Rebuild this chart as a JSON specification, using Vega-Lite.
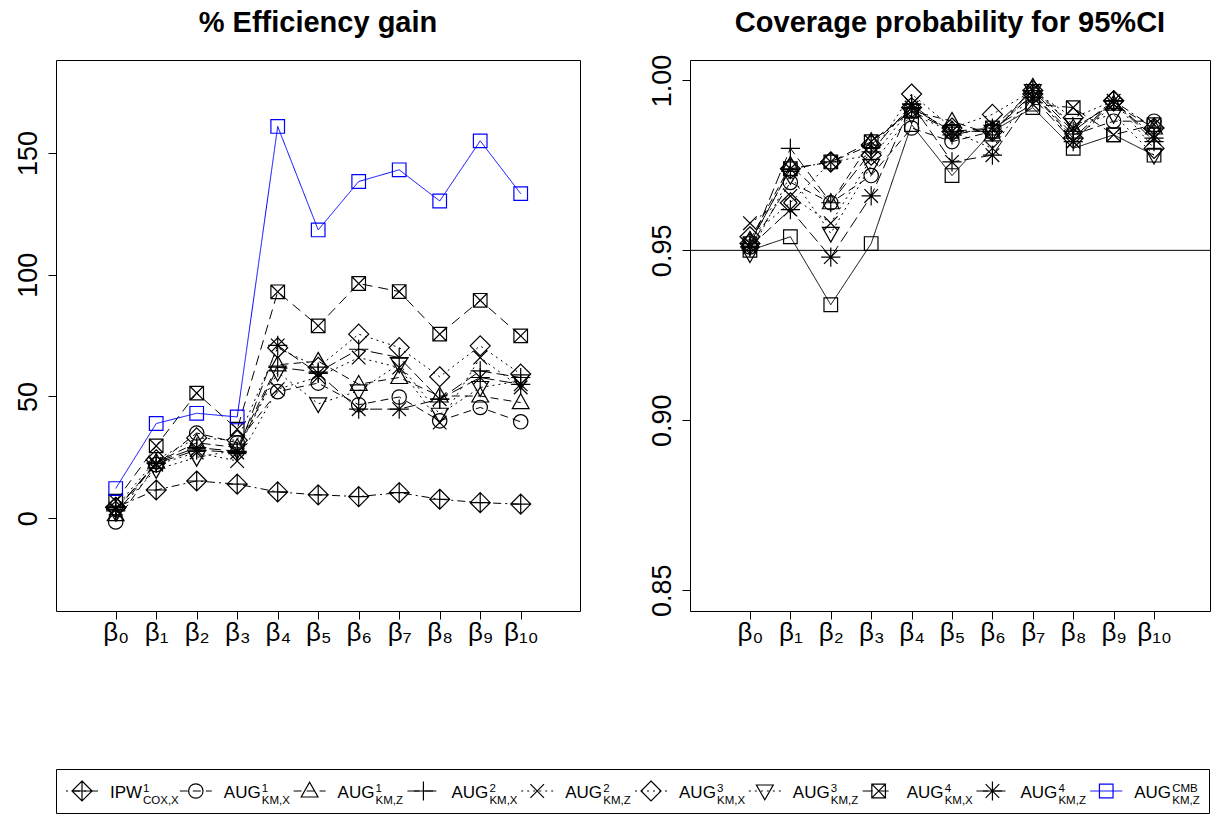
{
  "$schema": "https://vega.github.io/schema/vega-lite/v6.json",
  "padding": {"left": 13, "top": 8, "right": 0, "bottom": 0},
  "config": {
    "font": "Liberation Sans",
    "view": {"stroke": "black", "strokeWidth": 1},
    "axis": {"tickColor": "black", "labelColor": "black", "labelFont": "Liberation Sans", "domain": false, "grid": false, "title": null, "tickSize": 8, "tickWidth": 1},
    "title": {"font": "Liberation Sans", "fontSize": 29, "fontWeight": "bold", "color": "black", "anchor": "middle", "baseline": "alphabetic"}
  },
  "datasets": {
    "eff": [
      {"beta":0,"method":"IPW","value":4.4},{"beta":1,"method":"IPW","value":11.6},{"beta":2,"method":"IPW","value":15.3},{"beta":3,"method":"IPW","value":14.0},{"beta":4,"method":"IPW","value":10.8},{"beta":5,"method":"IPW","value":9.6},{"beta":6,"method":"IPW","value":8.9},{"beta":7,"method":"IPW","value":10.5},{"beta":8,"method":"IPW","value":7.8},{"beta":9,"method":"IPW","value":6.4},{"beta":10,"method":"IPW","value":5.8},
      {"beta":0,"method":"A1X","value":-1.5},{"beta":1,"method":"A1X","value":22},{"beta":2,"method":"A1X","value":35},{"beta":3,"method":"A1X","value":31},{"beta":4,"method":"A1X","value":52},{"beta":5,"method":"A1X","value":55.5},{"beta":6,"method":"A1X","value":46.6},{"beta":7,"method":"A1X","value":49.8},{"beta":8,"method":"A1X","value":40},{"beta":9,"method":"A1X","value":45.5},{"beta":10,"method":"A1X","value":39.6},
      {"beta":0,"method":"A1Z","value":1.5},{"beta":1,"method":"A1Z","value":23},{"beta":2,"method":"A1Z","value":31},{"beta":3,"method":"A1Z","value":29},{"beta":4,"method":"A1Z","value":63},{"beta":5,"method":"A1Z","value":64.5},{"beta":6,"method":"A1Z","value":55},{"beta":7,"method":"A1Z","value":57.8},{"beta":8,"method":"A1Z","value":50.2},{"beta":9,"method":"A1Z","value":50.2},{"beta":10,"method":"A1Z","value":47.5},
      {"beta":0,"method":"A2X","value":3},{"beta":1,"method":"A2X","value":23},{"beta":2,"method":"A2X","value":29},{"beta":3,"method":"A2X","value":27.5},{"beta":4,"method":"A2X","value":62},{"beta":5,"method":"A2X","value":60},{"beta":6,"method":"A2X","value":69.4},{"beta":7,"method":"A2X","value":66},{"beta":8,"method":"A2X","value":48.9},{"beta":9,"method":"A2X","value":60.5},{"beta":10,"method":"A2X","value":57.8},
      {"beta":0,"method":"A2Z","value":4},{"beta":1,"method":"A2Z","value":22},{"beta":2,"method":"A2Z","value":27},{"beta":3,"method":"A2Z","value":23.5},{"beta":4,"method":"A2Z","value":53},{"beta":5,"method":"A2Z","value":58},{"beta":6,"method":"A2Z","value":66},{"beta":7,"method":"A2Z","value":61.9},{"beta":8,"method":"A2Z","value":39.3},{"beta":9,"method":"A2Z","value":66},{"beta":10,"method":"A2Z","value":53.7},
      {"beta":0,"method":"A3X","value":4.5},{"beta":1,"method":"A3X","value":24},{"beta":2,"method":"A3X","value":33},{"beta":3,"method":"A3X","value":32},{"beta":4,"method":"A3X","value":70},{"beta":5,"method":"A3X","value":62},{"beta":6,"method":"A3X","value":75.6},{"beta":7,"method":"A3X","value":70.1},{"beta":8,"method":"A3X","value":58.1},{"beta":9,"method":"A3X","value":70.8},{"beta":10,"method":"A3X","value":59.2},
      {"beta":0,"method":"A3Z","value":2.5},{"beta":1,"method":"A3Z","value":20},{"beta":2,"method":"A3Z","value":25},{"beta":3,"method":"A3Z","value":28},{"beta":4,"method":"A3Z","value":60},{"beta":5,"method":"A3Z","value":47},{"beta":6,"method":"A3Z","value":52.3},{"beta":7,"method":"A3Z","value":63.3},{"beta":8,"method":"A3Z","value":42.7},{"beta":9,"method":"A3Z","value":53.7},{"beta":10,"method":"A3Z","value":56.4},
      {"beta":0,"method":"A4X","value":7},{"beta":1,"method":"A4X","value":29.7},{"beta":2,"method":"A4X","value":51.4},{"beta":3,"method":"A4X","value":36.6},{"beta":4,"method":"A4X","value":93},{"beta":5,"method":"A4X","value":79},{"beta":6,"method":"A4X","value":96.4},{"beta":7,"method":"A4X","value":93.1},{"beta":8,"method":"A4X","value":75.6},{"beta":9,"method":"A4X","value":89.5},{"beta":10,"method":"A4X","value":74.9},
      {"beta":0,"method":"A4Z","value":3.5},{"beta":1,"method":"A4Z","value":22.5},{"beta":2,"method":"A4Z","value":28},{"beta":3,"method":"A4Z","value":27},{"beta":4,"method":"A4Z","value":71},{"beta":5,"method":"A4Z","value":59.5},{"beta":6,"method":"A4Z","value":44.8},{"beta":7,"method":"A4Z","value":44.8},{"beta":8,"method":"A4Z","value":48.9},{"beta":9,"method":"A4Z","value":57.8},{"beta":10,"method":"A4Z","value":55},
      {"beta":0,"method":"CMB","value":12.2},{"beta":1,"method":"CMB","value":38.9},{"beta":2,"method":"CMB","value":43.1},{"beta":3,"method":"CMB","value":41.6},{"beta":4,"method":"CMB","value":160.9},{"beta":5,"method":"CMB","value":118.4},{"beta":6,"method":"CMB","value":138.3},{"beta":7,"method":"CMB","value":143.1},{"beta":8,"method":"CMB","value":130.3},{"beta":9,"method":"CMB","value":155},{"beta":10,"method":"CMB","value":133.3}
    ],
    "cov": [
      {"beta":0,"method":"IPW","value":0.952},{"beta":1,"method":"IPW","value":0.974},{"beta":2,"method":"IPW","value":0.976},{"beta":3,"method":"IPW","value":0.981},{"beta":4,"method":"IPW","value":0.992},{"beta":5,"method":"IPW","value":0.985},{"beta":6,"method":"IPW","value":0.985},{"beta":7,"method":"IPW","value":0.996},{"beta":8,"method":"IPW","value":0.983},{"beta":9,"method":"IPW","value":0.994},{"beta":10,"method":"IPW","value":0.986},
      {"beta":0,"method":"A1X","value":0.951},{"beta":1,"method":"A1X","value":0.970},{"beta":2,"method":"A1X","value":0.964},{"beta":3,"method":"A1X","value":0.972},{"beta":4,"method":"A1X","value":0.986},{"beta":5,"method":"A1X","value":0.982},{"beta":6,"method":"A1X","value":0.985},{"beta":7,"method":"A1X","value":0.996},{"beta":8,"method":"A1X","value":0.984},{"beta":9,"method":"A1X","value":0.988},{"beta":10,"method":"A1X","value":0.988},
      {"beta":0,"method":"A1Z","value":0.953},{"beta":1,"method":"A1Z","value":0.975},{"beta":2,"method":"A1Z","value":0.964},{"beta":3,"method":"A1Z","value":0.982},{"beta":4,"method":"A1Z","value":0.991},{"beta":5,"method":"A1Z","value":0.988},{"beta":6,"method":"A1Z","value":0.984},{"beta":7,"method":"A1Z","value":0.998},{"beta":8,"method":"A1Z","value":0.986},{"beta":9,"method":"A1Z","value":0.993},{"beta":10,"method":"A1Z","value":0.986},
      {"beta":0,"method":"A2X","value":0.951},{"beta":1,"method":"A2X","value":0.980},{"beta":2,"method":"A2X","value":0.964},{"beta":3,"method":"A2X","value":0.979},{"beta":4,"method":"A2X","value":0.993},{"beta":5,"method":"A2X","value":0.984},{"beta":6,"method":"A2X","value":0.986},{"beta":7,"method":"A2X","value":0.997},{"beta":8,"method":"A2X","value":0.985},{"beta":9,"method":"A2X","value":0.994},{"beta":10,"method":"A2X","value":0.982},
      {"beta":0,"method":"A2Z","value":0.958},{"beta":1,"method":"A2Z","value":0.966},{"beta":2,"method":"A2Z","value":0.958},{"beta":3,"method":"A2Z","value":0.977},{"beta":4,"method":"A2Z","value":0.992},{"beta":5,"method":"A2Z","value":0.985},{"beta":6,"method":"A2Z","value":0.980},{"beta":7,"method":"A2Z","value":0.997},{"beta":8,"method":"A2Z","value":0.982},{"beta":9,"method":"A2Z","value":0.993},{"beta":10,"method":"A2Z","value":0.984},
      {"beta":0,"method":"A3X","value":0.954},{"beta":1,"method":"A3X","value":0.964},{"beta":2,"method":"A3X","value":0.976},{"beta":3,"method":"A3X","value":0.978},{"beta":4,"method":"A3X","value":0.996},{"beta":5,"method":"A3X","value":0.986},{"beta":6,"method":"A3X","value":0.990},{"beta":7,"method":"A3X","value":0.997},{"beta":8,"method":"A3X","value":0.989},{"beta":9,"method":"A3X","value":0.994},{"beta":10,"method":"A3X","value":0.980},
      {"beta":0,"method":"A3Z","value":0.949},{"beta":1,"method":"A3Z","value":0.972},{"beta":2,"method":"A3Z","value":0.955},{"beta":3,"method":"A3Z","value":0.975},{"beta":4,"method":"A3Z","value":0.990},{"beta":5,"method":"A3Z","value":0.985},{"beta":6,"method":"A3Z","value":0.985},{"beta":7,"method":"A3Z","value":0.997},{"beta":8,"method":"A3Z","value":0.987},{"beta":9,"method":"A3Z","value":0.990},{"beta":10,"method":"A3Z","value":0.978},
      {"beta":0,"method":"A4X","value":0.952},{"beta":1,"method":"A4X","value":0.974},{"beta":2,"method":"A4X","value":0.976},{"beta":3,"method":"A4X","value":0.982},{"beta":4,"method":"A4X","value":0.991},{"beta":5,"method":"A4X","value":0.985},{"beta":6,"method":"A4X","value":0.986},{"beta":7,"method":"A4X","value":0.993},{"beta":8,"method":"A4X","value":0.992},{"beta":9,"method":"A4X","value":0.984},{"beta":10,"method":"A4X","value":0.987},
      {"beta":0,"method":"A4Z","value":0.951},{"beta":1,"method":"A4Z","value":0.962},{"beta":2,"method":"A4Z","value":0.948},{"beta":3,"method":"A4Z","value":0.966},{"beta":4,"method":"A4Z","value":0.993},{"beta":5,"method":"A4Z","value":0.976},{"beta":6,"method":"A4Z","value":0.978},{"beta":7,"method":"A4Z","value":0.995},{"beta":8,"method":"A4Z","value":0.982},{"beta":9,"method":"A4Z","value":0.994},{"beta":10,"method":"A4Z","value":0.983},
      {"beta":0,"method":"CMB","value":0.950},{"beta":1,"method":"CMB","value":0.954},{"beta":2,"method":"CMB","value":0.934},{"beta":3,"method":"CMB","value":0.952},{"beta":4,"method":"CMB","value":0.987},{"beta":5,"method":"CMB","value":0.972},{"beta":6,"method":"CMB","value":0.985},{"beta":7,"method":"CMB","value":0.992},{"beta":8,"method":"CMB","value":0.980},{"beta":9,"method":"CMB","value":0.984},{"beta":10,"method":"CMB","value":0.978}
    ],
    "leg": [
      {"idx":0,"method":"IPW","base":"IPW","sup":"1","sub":"COX,X"},
      {"idx":1,"method":"A1X","base":"AUG","sup":"1","sub":"KM,X"},
      {"idx":2,"method":"A1Z","base":"AUG","sup":"1","sub":"KM,Z"},
      {"idx":3,"method":"A2X","base":"AUG","sup":"2","sub":"KM,X"},
      {"idx":4,"method":"A2Z","base":"AUG","sup":"2","sub":"KM,Z"},
      {"idx":5,"method":"A3X","base":"AUG","sup":"3","sub":"KM,X"},
      {"idx":6,"method":"A3Z","base":"AUG","sup":"3","sub":"KM,Z"},
      {"idx":7,"method":"A4X","base":"AUG","sup":"4","sub":"KM,X"},
      {"idx":8,"method":"A4Z","base":"AUG","sup":"4","sub":"KM,Z"},
      {"idx":9,"method":"CMB","base":"AUG","sup":"CMB","sub":"KM,Z"}
    ]
  },
  "vconcat": [
    {
      "hconcat": [
        {
          "width": 524, "height": 551,
          "title": {"text": "% Efficiency gain", "offset": 22},
          "data": {"name": "eff"},
          "encoding": {
            "x": {"field": "beta", "type": "quantitative", "scale": {"domain": [-1.474, 11.464], "nice": false, "zero": false},
                  "axis": {"values": [0,1,2,3,4,5,6,7,8,9,10], "labelExpr": "'β' + ['₀','₁','₂','₃','₄','₅','₆','₇','₈','₉','₁₀'][datum.value]", "labelFontSize": 26, "labelPadding": 0, "labelFlush": false, "labelOverlap": false}},
            "y": {"field": "value", "type": "quantitative", "scale": {"domain": [-38.1, 188.2], "nice": false, "zero": false},
                  "axis": {"values": [0, 50, 100, 150], "labelAngle": -90, "labelFontSize": 27, "labelPadding": 6, "labelFlush": false, "labelOverlap": false}}
          },
          "layer": [
            {"mark": {"type": "line", "strokeWidth": 1},
             "encoding": {
               "detail": {"field": "method"},
               "strokeDash": {"field": "method", "type": "nominal", "legend": null, "scale": {"domain": ["IPW","A1X","A1Z","A2X","A2Z","A3X","A3Z","A4X","A4Z","CMB"], "range": [[2,4,8,4],[8,5],[8,5],[12,5],[2,4],[2,4],[2,4],[10,6],[12,5],[1,0]]}},
               "color": {"field": "method", "type": "nominal", "legend": null, "scale": {"domain": ["IPW","A1X","A1Z","A2X","A2Z","A3X","A3Z","A4X","A4Z","CMB"], "range": ["#000000","#000000","#000000","#000000","#000000","#000000","#000000","#000000","#000000","#0000FF"]}}
             }},
            {"mark": {"type": "point", "filled": false, "size": 256, "strokeWidth": 1.2, "opacity": 1},
             "encoding": {
               "shape": {"field": "method", "type": "nominal", "legend": null, "scale": {"domain": ["IPW","A1X","A1Z","A2X","A2Z","A3X","A3Z","A4X","A4Z","CMB"], "range": [
                 "M0,-1.25L1.25,0L0,1.25L-1.25,0ZM0,-1.25V1.25M-1.25,0H1.25",
                 "M0.9,0A0.9,0.9 0 1,1 -0.9,0A0.9,0.9 0 1,1 0.9,0Z",
                 "M0,-1.1L1.05,0.75L-1.05,0.75Z",
                 "M-1.2,0H1.2M0,-1.2V1.2",
                 "M-0.85,-0.85L0.85,0.85M-0.85,0.85L0.85,-0.85",
                 "M0,-1.25L1.25,0L0,1.25L-1.25,0Z",
                 "M0,1.1L1.05,-0.75L-1.05,-0.75Z",
                 "M-0.85,-0.85H0.85V0.85H-0.85ZM-0.85,-0.85L0.85,0.85M-0.85,0.85L0.85,-0.85",
                 "M-1.2,0H1.2M0,-1.2V1.2M-0.85,-0.85L0.85,0.85M-0.85,0.85L0.85,-0.85",
                 "M-0.85,-0.85H0.85V0.85H-0.85Z"]}},
               "color": {"field": "method", "type": "nominal", "legend": null, "scale": {"domain": ["IPW","A1X","A1Z","A2X","A2Z","A3X","A3Z","A4X","A4Z","CMB"], "range": ["#000000","#000000","#000000","#000000","#000000","#000000","#000000","#000000","#000000","#0000FF"]}}
             }}
          ]
        },
        {
          "width": 520, "height": 551,
          "title": {"text": "Coverage probability for 95%CI", "offset": 16},
          "data": {"name": "cov"},
          "encoding": {
            "y": {"field": "value", "type": "quantitative", "scale": {"domain": [0.8439, 1.006], "nice": false, "zero": false},
                  "axis": {"values": [0.85, 0.9, 0.95, 1.0], "format": ".2f", "labelAngle": -90, "labelFontSize": 27, "labelPadding": 6, "labelFlush": false, "labelOverlap": false}}
          },
          "layer": [
            {"data": {"values": [{"ref": 0.95}]},
             "mark": {"type": "rule", "color": "black", "strokeWidth": 1},
             "encoding": {"y": {"field": "ref", "type": "quantitative"}}},
            {"mark": {"type": "line", "strokeWidth": 1, "color": "black"},
             "encoding": {
               "x": {"field": "beta", "type": "quantitative", "scale": {"domain": [-1.484, 11.385], "nice": false, "zero": false},
                     "axis": {"values": [0,1,2,3,4,5,6,7,8,9,10], "labelExpr": "'β' + ['₀','₁','₂','₃','₄','₅','₆','₇','₈','₉','₁₀'][datum.value]", "labelFontSize": 26, "labelPadding": 0, "labelFlush": false, "labelOverlap": false}},
               "detail": {"field": "method"},
               "strokeDash": {"field": "method", "type": "nominal", "legend": null, "scale": {"domain": ["IPW","A1X","A1Z","A2X","A2Z","A3X","A3Z","A4X","A4Z","CMB"], "range": [[2,4,8,4],[8,5],[8,5],[12,5],[2,4],[2,4],[2,4],[10,6],[12,5],[1,0]]}}
             }},
            {"mark": {"type": "point", "filled": false, "size": 256, "strokeWidth": 1.2, "opacity": 1, "color": "black"},
             "encoding": {
               "x": {"field": "beta", "type": "quantitative"},
               "shape": {"field": "method", "type": "nominal", "legend": null, "scale": {"domain": ["IPW","A1X","A1Z","A2X","A2Z","A3X","A3Z","A4X","A4Z","CMB"], "range": [
                 "M0,-1.25L1.25,0L0,1.25L-1.25,0ZM0,-1.25V1.25M-1.25,0H1.25",
                 "M0.9,0A0.9,0.9 0 1,1 -0.9,0A0.9,0.9 0 1,1 0.9,0Z",
                 "M0,-1.1L1.05,0.75L-1.05,0.75Z",
                 "M-1.2,0H1.2M0,-1.2V1.2",
                 "M-0.85,-0.85L0.85,0.85M-0.85,0.85L0.85,-0.85",
                 "M0,-1.25L1.25,0L0,1.25L-1.25,0Z",
                 "M0,1.1L1.05,-0.75L-1.05,-0.75Z",
                 "M-0.85,-0.85H0.85V0.85H-0.85ZM-0.85,-0.85L0.85,0.85M-0.85,0.85L0.85,-0.85",
                 "M-1.2,0H1.2M0,-1.2V1.2M-0.85,-0.85L0.85,0.85M-0.85,0.85L0.85,-0.85",
                 "M-0.85,-0.85H0.85V0.85H-0.85Z"]}}
             }}
          ]
        }
      ],
      "spacing": 110,
      "bounds": "flush"
    },
    {
      "width": 1153, "height": 44,
      "data": {"name": "leg"},
      "encoding": {
        "x": {"field": "idx", "type": "quantitative", "scale": {"domain": [-0.2285, 9.903], "nice": false, "zero": false}, "axis": null},
        "y": {"datum": 0.5, "type": "quantitative", "scale": {"domain": [0, 1]}, "axis": null}
      },
      "layer": [
        {"mark": {"type": "rule", "xOffset": -16, "x2Offset": 16, "strokeWidth": 1},
         "encoding": {
           "x2": {"field": "idx"},
           "strokeDash": {"field": "method", "type": "nominal", "legend": null, "scale": {"domain": ["IPW","A1X","A1Z","A2X","A2Z","A3X","A3Z","A4X","A4Z","CMB"], "range": [[2,4,8,4],[8,5],[8,5],[12,5],[2,4],[2,4],[2,4],[10,6],[12,5],[1,0]]}},
           "color": {"field": "method", "type": "nominal", "legend": null, "scale": {"domain": ["IPW","A1X","A1Z","A2X","A2Z","A3X","A3Z","A4X","A4Z","CMB"], "range": ["#000000","#000000","#000000","#000000","#000000","#000000","#000000","#000000","#000000","#0000FF"]}}
         }},
        {"mark": {"type": "point", "filled": false, "size": 256, "strokeWidth": 1.2, "opacity": 1},
         "encoding": {
           "shape": {"field": "method", "type": "nominal", "legend": null, "scale": {"domain": ["IPW","A1X","A1Z","A2X","A2Z","A3X","A3Z","A4X","A4Z","CMB"], "range": [
             "M0,-1.25L1.25,0L0,1.25L-1.25,0ZM0,-1.25V1.25M-1.25,0H1.25",
             "M0.9,0A0.9,0.9 0 1,1 -0.9,0A0.9,0.9 0 1,1 0.9,0Z",
             "M0,-1.1L1.05,0.75L-1.05,0.75Z",
             "M-1.2,0H1.2M0,-1.2V1.2",
             "M-0.85,-0.85L0.85,0.85M-0.85,0.85L0.85,-0.85",
             "M0,-1.25L1.25,0L0,1.25L-1.25,0Z",
             "M0,1.1L1.05,-0.75L-1.05,-0.75Z",
             "M-0.85,-0.85H0.85V0.85H-0.85ZM-0.85,-0.85L0.85,0.85M-0.85,0.85L0.85,-0.85",
             "M-1.2,0H1.2M0,-1.2V1.2M-0.85,-0.85L0.85,0.85M-0.85,0.85L0.85,-0.85",
             "M-0.85,-0.85H0.85V0.85H-0.85Z"]}},
           "color": {"field": "method", "type": "nominal", "legend": null, "scale": {"domain": ["IPW","A1X","A1Z","A2X","A2Z","A3X","A3Z","A4X","A4Z","CMB"], "range": ["#000000","#000000","#000000","#000000","#000000","#000000","#000000","#000000","#000000","#0000FF"]}}
         }},
        {"mark": {"type": "text", "align": "left", "baseline": "alphabetic", "dx": 28, "dy": 7, "fontSize": 17, "color": "black"},
         "encoding": {"text": {"field": "base"}}},
        {"transform": [{"filter": "datum.base == 'IPW'"}],
         "mark": {"type": "text", "align": "left", "baseline": "alphabetic", "dx": 61, "dy": 0.5, "fontSize": 11.5, "color": "black"},
         "encoding": {"text": {"field": "sup"}}},
        {"transform": [{"filter": "datum.base == 'IPW'"}],
         "mark": {"type": "text", "align": "left", "baseline": "alphabetic", "dx": 61, "dy": 12.5, "fontSize": 11.5, "color": "black"},
         "encoding": {"text": {"field": "sub"}}},
        {"transform": [{"filter": "datum.base == 'AUG'"}],
         "mark": {"type": "text", "align": "left", "baseline": "alphabetic", "dx": 66, "dy": 0.5, "fontSize": 11.5, "color": "black"},
         "encoding": {"text": {"field": "sup"}}},
        {"transform": [{"filter": "datum.base == 'AUG'"}],
         "mark": {"type": "text", "align": "left", "baseline": "alphabetic", "dx": 66, "dy": 12.5, "fontSize": 11.5, "color": "black"},
         "encoding": {"text": {"field": "sub"}}}
      ]
    }
  ],
  "spacing": 122
}
